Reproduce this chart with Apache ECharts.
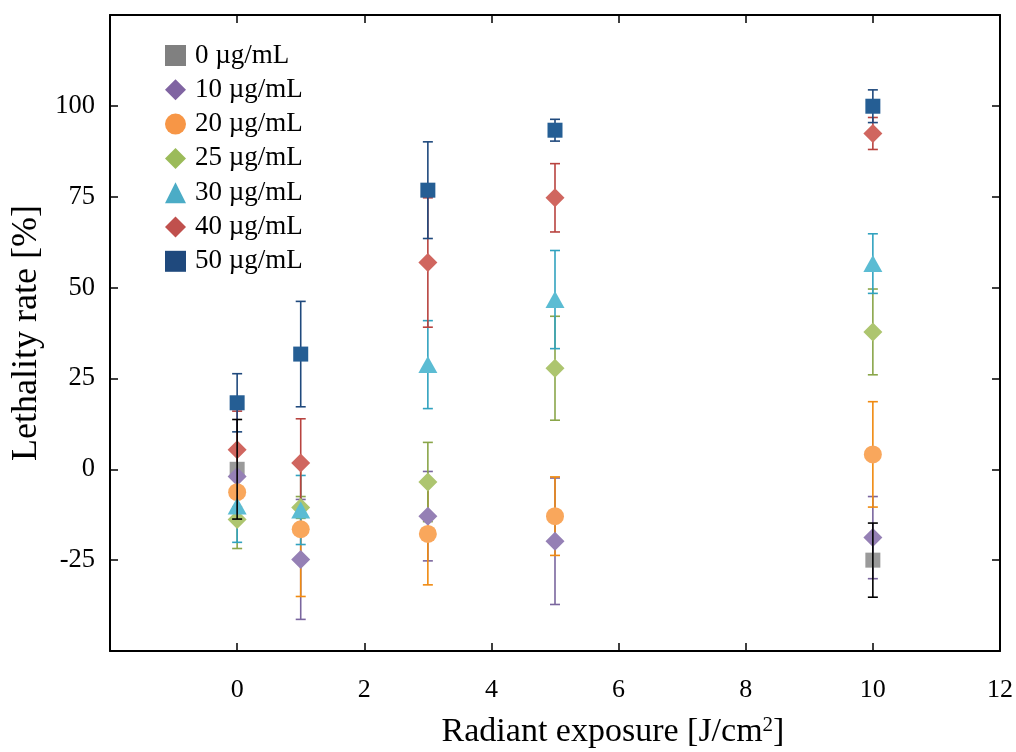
<!DOCTYPE html>
<html>
<head>
<meta charset="utf-8">
<script src="https://cdn.jsdelivr.net/npm/echarts@6/dist/echarts.min.js"></script>
<style>
  html, body { margin: 0; padding: 0; background: #fff; }
  #chart { width: 1016px; height: 752px; }
</style>
</head>
<body>
<div id="chart"></div>
<script>
// Radiant exposure (J/cm²) at which lethality was measured
const exposure = [0, 1, 3, 5, 10];

// Concentration groups
const groups = ['0 µg/mL', '10 µg/mL', '20 µg/mL', '25 µg/mL', '30 µg/mL', '40 µg/mL', '50 µg/mL'];

// Mean lethality rate (%) per exposure, and its error (±)
const mean0  = [0.0, null, null, null, -25.0];
const err0   = [13.7, null, null, null, 10.2];
const mean10 = [-2.0, -24.8, -12.9, -19.8, -18.8];
const err10  = [3.0, 16.5, 12.3, 17.4, 11.3];
const mean20 = [-6.3, -16.5, -17.8, -12.9, 4.1];
const err20  = [4.0, 18.5, 14.0, 10.8, 14.5];
const mean25 = [-13.8, -10.5, -3.5, 27.8, 37.8];
const err25  = [8.0, 3.0, 10.9, 14.3, 11.8];
const mean30 = [-10.1, -11.2, 28.8, 46.7, 56.6];
const err30  = [10.0, 9.5, 12.1, 13.5, 8.2];
const mean40 = [5.4, 1.7, 56.9, 74.7, 92.4];
const err40  = [10.6, 12.2, 17.8, 9.4, 4.4];
const mean50 = [18.3, 31.7, 76.8, 93.3, 99.9];
const err50  = [8.0, 14.5, 13.3, 3.0, 4.5];

const means = [mean0, mean10, mean20, mean25, mean30, mean40, mean50];
const errs  = [err0, err10, err20, err25, err30, err40, err50];

// Styling per group
const markerColor = ['#9a9a9a', '#9580b5', '#f9a75c', '#adc56f', '#5bbcd3', '#d0665f', '#255e94'];
const legendColor = ['#808080', '#8064a2', '#f79646', '#9bbb59', '#4bacc6', '#c0504d', '#1f497d'];
const barColor    = ['#000000', '#7a669e', '#f08a10', '#8aa64a', '#31a2bf', '#b8433f', '#1f497d'];
const symbols     = ['rect', 'diamond', 'circle', 'diamond', 'triangle', 'diamond', 'rect'];
const symbolSizes = [[15, 15], [19, 19], [18, 18], [19, 19], [19, 17], [19, 19], [15, 15]];

const FONT = '"Liberation Serif", "Times New Roman", serif';

function errorBarSeries(i) {
  const data = [];
  exposure.forEach((x, k) => {
    const m = means[i][k], e = errs[i][k];
    if (m === null || e === null) return;
    data.push([x, m, m - e, m + e]);
  });
  return {
    type: 'custom',
    name: 'err-' + groups[i],
    z: i === 0 ? 4 : 1,
    silent: true,
    data: data,
    encode: { x: 0, y: [1, 2, 3] },
    renderItem: function (params, api) {
      const x = api.value(0);
      const top = api.coord([x, api.value(3)]);
      const bot = api.coord([x, api.value(2)]);
      const half = 5;
      const style = { stroke: barColor[i], lineWidth: 1.6, fill: null };
      return {
        type: 'group',
        children: [
          { type: 'line', shape: { x1: top[0], y1: top[1], x2: bot[0], y2: bot[1] }, style: style },
          { type: 'line', shape: { x1: top[0] - half, y1: top[1], x2: top[0] + half, y2: top[1] }, style: style },
          { type: 'line', shape: { x1: bot[0] - half, y1: bot[1], x2: bot[0] + half, y2: bot[1] }, style: style }
        ]
      };
    }
  };
}

function markerSeries(i) {
  const data = [];
  exposure.forEach((x, k) => {
    if (means[i][k] !== null) data.push([x, means[i][k]]);
  });
  return {
    type: 'scatter',
    name: groups[i],
    z: 2,
    symbol: symbols[i],
    symbolSize: symbolSizes[i],
    itemStyle: { color: markerColor[i], opacity: 1 },
    emphasis: { disabled: true },
    data: data
  };
}

const series = [];
groups.forEach((g, i) => series.push(errorBarSeries(i)));
groups.forEach((g, i) => series.push(markerSeries(i)));

const axisLineStyle = { color: '#000', width: 2 };
const tickStyle = { color: '#000', width: 1.5 };

const chart = echarts.init(document.getElementById('chart'), null, { renderer: 'canvas' });
chart.setOption({
  animation: false,
  backgroundColor: '#ffffff',
  grid: { left: 110, right: 16, top: 15, bottom: 101, containLabel: false, outerBoundsMode: 'none' },
  legend: {
    orient: 'vertical',
    left: 160,
    top: 37,
    itemWidth: 21,
    itemHeight: 21,
    itemGap: 7.3,
    selectedMode: false,
    textStyle: { fontFamily: FONT, fontSize: 27, color: '#000', padding: [0, 0, 0, 4] },
    data: groups.map((g, i) => ({
      name: g,
      icon: symbols[i],
      itemStyle: { color: legendColor[i], opacity: 1 }
    }))
  },
  xAxis: [
    {
      type: 'value',
      position: 'bottom',
      min: -2, max: 12, interval: 2,
      name: 'Radiant exposure [J/cm{sup|2}]',
      nameLocation: 'middle',
      nameGap: 64,
      nameTextStyle: {
        fontFamily: FONT, fontSize: 34, color: '#000',
        padding: [0, 0, 0, 116],
        rich: { sup: { fontFamily: FONT, fontSize: 21, color: '#000', verticalAlign: 'top', padding: [0, 0, 14, 0] } }
      },
      axisLine: { show: true, onZero: false, lineStyle: axisLineStyle },
      axisTick: { show: true, inside: true, length: 8, lineStyle: tickStyle },
      axisLabel: { showMinLabel: false, margin: 26, fontFamily: FONT, fontSize: 26, color: '#000' },
      splitLine: { show: false }
    },
    {
      type: 'value',
      position: 'top',
      min: -2, max: 12, interval: 2,
      axisLine: { show: true, onZero: false, lineStyle: axisLineStyle },
      axisTick: { show: true, inside: true, length: 8, lineStyle: tickStyle },
      axisLabel: { show: false },
      splitLine: { show: false }
    }
  ],
  yAxis: [
    {
      type: 'value',
      position: 'left',
      min: -50, max: 125, interval: 25,
      name: 'Lethality rate [%]',
      nameLocation: 'middle',
      nameGap: 62,
      nameTextStyle: { fontFamily: FONT, fontSize: 36, color: '#000' },
      axisLine: { show: true, onZero: false, lineStyle: axisLineStyle },
      axisTick: { show: true, inside: true, length: 8, lineStyle: tickStyle },
      axisLabel: { showMinLabel: false, showMaxLabel: false, margin: 15, fontFamily: FONT, fontSize: 26.5, color: '#000' },
      splitLine: { show: false }
    },
    {
      type: 'value',
      position: 'right',
      min: -50, max: 125, interval: 25,
      axisLine: { show: true, onZero: false, lineStyle: axisLineStyle },
      axisTick: { show: true, inside: true, length: 8, lineStyle: tickStyle },
      axisLabel: { show: false },
      splitLine: { show: false }
    }
  ],
  series: series
});
</script>
</body>
</html>
